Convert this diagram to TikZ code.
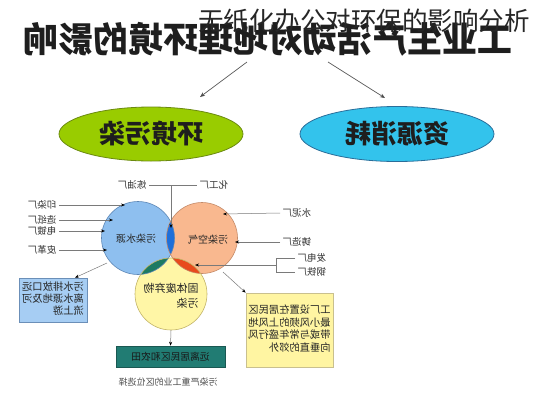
\documentclass[tikz,border=0pt]{standalone}
\usepackage{fontspec}
\usepackage{graphicx}
\setmainfont{Noto Sans CJK SC}
\usetikzlibrary{arrows.meta,shapes.geometric}
\newcommand\mirt[1]{\reflectbox{#1}}
\newcommand\fsz[1]{\fontsize{#1}{#1}\selectfont}
\definecolor{titlec}{HTML}{1E1E1E}
\definecolor{greenc}{HTML}{99CC00}
\definecolor{greenb}{HTML}{6B8A10}
\definecolor{cyanc}{HTML}{33C3EC}
\definecolor{cyanb}{HTML}{2A6E9A}
\definecolor{bluec}{HTML}{8EBFEF}
\definecolor{blueb}{HTML}{5C86B5}
\definecolor{orangec}{HTML}{F9B88F}
\definecolor{orangeb}{HTML}{C48A68}
\definecolor{yellowc}{HTML}{FFF6A6}
\definecolor{yellowb}{HTML}{C2B468}
\definecolor{lensb}{HTML}{1E6FD9}
\definecolor{lensg}{HTML}{1D7A62}
\definecolor{lensr}{HTML}{E84A1C}
\definecolor{boxb}{HTML}{A6CDF3}
\definecolor{boxbb}{HTML}{6B8FB8}
\definecolor{boxt}{HTML}{217C73}
\definecolor{boxtb}{HTML}{1A5852}
\definecolor{boxy}{HTML}{FFF5A2}
\definecolor{boxyb}{HTML}{C9C08E}
\definecolor{linec}{HTML}{7A7A7A}
\begin{document}
\begin{tikzpicture}[x=1pt,y=-1pt,
  lab/.style={font=\fsz{9.5}, text=black!80, inner sep=2.5pt},
  lbl/.style={draw=linec, line width=0.5pt},
  arr/.style={draw=linec, line width=0.5pt, -{Stealth[length=4pt,width=3pt,black]}},
  bigarr/.style={draw=black!65, line width=0.7pt, -{Stealth[length=5pt,width=4pt,black!70]}},
  venn/.style={circle, inner sep=0pt},
  infobox/.style={rectangle, inner sep=0pt, line width=0.6pt}
]
\useasboundingbox (0,0) rectangle (533,400);
\fill[white] (0,0) rectangle (533,400);

% title (mirrored)
\node[font={\fsz{35}\bfseries}, text=titlec, inner sep=0pt] (title) at (268,39) {\mirt{工业生产活动对地理环境的影响}};

% ellipses
\node[ellipse, minimum width=184pt, minimum height=54pt, inner sep=0pt, fill=greenc, draw=greenb, line width=0.8pt, font={\fsz{26}\bfseries}, text=titlec] (pollu) at (151,134) {\mirt{环境污染}};
\node[ellipse, minimum width=194pt, minimum height=55pt, inner sep=0pt, fill=cyanc, draw=cyanb, line width=0.8pt, font={\fsz{26}\bfseries}, text=titlec] (resou) at (397,134) {\mirt{资源消耗}};

\coordinate (ta) at (247,62);
\coordinate (tae) at (200,97);
\coordinate (tb) at (328,62);
\coordinate (tbe) at (385,98);
\draw[bigarr] (ta) -- (tae);
\draw[bigarr] (tb) -- (tbe);

% venn circles
\node[venn, minimum size=73pt, fill=bluec] (cw) at (138,238) {};
\node[venn, minimum size=71pt, fill=orangec] (ca) at (202,238) {};
\node[venn, minimum size=72pt, fill=yellowc] (cs) at (171,294) {};
\begin{scope}
  \clip (cw.center) circle[radius=36.5pt];
  \fill[lensb] (ca.center) circle[radius=35.5pt];
  \fill[lensg] (cs.center) circle[radius=36pt];
\end{scope}
\begin{scope}
  \clip (ca.center) circle[radius=35.5pt];
  \fill[lensr] (cs.center) circle[radius=36pt];
\end{scope}
\draw[blueb, line width=0.6pt] (cw.center) circle[radius=36.5pt];
\draw[orangeb, line width=0.6pt] (ca.center) circle[radius=35.5pt];
\draw[yellowb, line width=0.6pt] (cs.center) circle[radius=36pt];

\node[font=\fsz{10}, text=black!85] (tw) at (136,239) {\mirt{污染水源}};
\node[font=\fsz{10}, text=black!85] (tair) at (208,240) {\mirt{污染空气}};
\node[font=\fsz{11}, text=black!85, inner sep=0pt] (tsol) at (171,297) {\mirt{\renewcommand\arraystretch{1.3}\begin{tabular}{@{}l@{}}固体废弃物\\污染\end{tabular}}};

% left labels
\node[lab, anchor=east] (l1) at (59,205) {\mirt{印染厂}};
\node[lab, anchor=east] (l2) at (59,220) {\mirt{造纸厂}};
\node[lab, anchor=east] (l3) at (59,231) {\mirt{电镀厂}};
\node[lab, anchor=east] (l4) at (59,250) {\mirt{皮革厂}};
\coordinate (c1) at (125,205);
\coordinate (c2) at (113,220);
\coordinate (c3) at (105,231);
\coordinate (c4) at (107,250);
\draw[arr] (l1.east) -- (c1);
\draw[arr] (l2.east) -- (c2);
\draw[arr] (l3.east) -- (c3);
\draw[arr] (l4.east) -- (c4);

% top labels
\node[lab, anchor=east] (ly) at (149,185) {\mirt{炼油厂}};
\node[lab, anchor=west] (hg) at (197,185) {\mirt{化工厂}};
\coordinate (jt) at (171,185);
\coordinate (jte) at (171,228);
\draw[lbl] (ly.east) -- (hg.west);
\draw[arr] (jt) -- (jte);

% right labels
\node[lab, anchor=west] (sn) at (280,213) {\mirt{水泥厂}};
\node[lab, anchor=west] (zz) at (280,242) {\mirt{铸造厂}};
\node[lab, anchor=west] (fd) at (295,258) {\mirt{发电厂}};
\node[lab, anchor=west] (gt) at (295,272) {\mirt{钢铁厂}};
\coordinate (r1) at (223,214);
\coordinate (r2) at (235,242);
\coordinate (bk) at (276,265);
\coordinate (r3) at (195,265);
\draw[arr] (sn.west) -- (r1);
\draw[arr] (zz.west) -- (r2);
\draw[lbl] (fd.west) -- (276,258) -- (276,272) -- (gt.west);
\draw[arr] (bk) -- (r3);

% boxes
\node[infobox, minimum width=68pt, minimum height=44pt, fill=boxb, draw=boxbb, font=\fsz{10.3}, text=black!85] (bw) at (53,300) {\mirt{\renewcommand\arraystretch{1.2}\begin{tabular}{@{}l@{}}污水排放口远\\离水源地及河\\流上游\end{tabular}}};
\node[infobox, minimum width=87pt, minimum height=74pt, fill=boxy, draw=boxyb, font=\fsz{10.3}, text=black!85] (by) at (289.5,330) {\mirt{\renewcommand\arraystretch{1.2}\begin{tabular}{@{}l@{}}工厂设置在居民区\\最小风频的上风地\\带或与常年盛行风\\向垂直的郊外\end{tabular}}};
\node[infobox, minimum width=109pt, minimum height=21pt, fill=boxt, draw=boxtb, font=\fsz{9.8}, text=black!90] (bt) at (170.5,356.5) {\mirt{远离居民区和农田}};
\node[font=\fsz{9}, text=black!70] (cap) at (168,382) {\mirt{污染严重工业的区位选择}};

\coordinate (s1) at (107,263);
\coordinate (s2) at (223,272);
\draw[arr] (s1) -- (bw.north -| 75,0);
\draw[arr] (s2) -- (by.north west);
\draw[arr] (cs.south) -- (bt.north);

% watermark
\node[font=\fsz{25.5}, text=black!85, inner sep=0pt] (wmk) at (364,21) {无纸化办公对环保的影响分析};
\end{tikzpicture}
\end{document}
